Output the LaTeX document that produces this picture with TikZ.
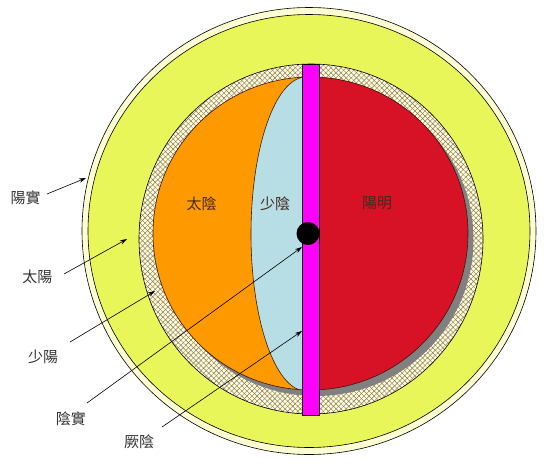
\documentclass[tikz,border=0pt]{standalone}
\usepackage{fontspec}
\newfontfamily\cjk{Noto Sans CJK TC}
\usetikzlibrary{patterns.meta,arrows.meta}
\definecolor{cream}{RGB}{255,255,212}
\definecolor{yel}{RGB}{232,246,90}
\definecolor{org}{RGB}{255,153,0}
\definecolor{lblue}{RGB}{183,222,228}
\definecolor{rd}{RGB}{215,17,38}
\definecolor{mag}{RGB}{255,0,255}
\definecolor{shad}{RGB}{128,128,128}
\definecolor{hatchc}{RGB}{140,112,100}
\definecolor{txt}{RGB}{50,50,50}
\tikzset{
  lbl/.style={font=\cjk\fontsize{15}{15}\selectfont, text=txt, inner sep=0pt},
  inlbl/.style={font=\cjk\fontsize{15}{15}\selectfont, text={rgb,255:red,70;green,40;blue,30}, inner sep=0pt},
  arr/.style={draw=black, line width=0.6pt, -{Stealth[length=7pt,width=4.5pt]}},
  edge/.style={draw=black, line width=0.6pt},
}
\begin{document}
\begin{tikzpicture}[x=1pt,y=-1pt]
\useasboundingbox (0,0) rectangle (555,475);
% outer band
\fill[cream, edge] (309,231) ellipse [x radius=227pt, y radius=223.5pt];
\draw[edge, fill=yel] (309,231) ellipse [x radius=221pt, y radius=216.5pt];
% hatched ring
\fill[cream] (311,239) ellipse [x radius=172pt, y radius=175pt];
\fill[pattern={Lines[angle=45,distance=3.6pt,line width=0.45pt]}, pattern color=hatchc] (311,239) ellipse [x radius=172pt, y radius=175pt];
\fill[pattern={Lines[angle=-45,distance=3.6pt,line width=0.45pt]}, pattern color=hatchc] (311,239) ellipse [x radius=172pt, y radius=175pt];
\draw[edge] (311,239) ellipse [x radius=172pt, y radius=175pt];
% shadow
\fill[shad] (316,239.5) ellipse [x radius=157.5pt, y radius=156.5pt];
% inner disk
\fill[org] (310.5,233.5) ellipse [x radius=157.5pt, y radius=156.5pt];
\begin{scope}
  \clip (310.5,233.5) ellipse [x radius=157.5pt, y radius=156.5pt];
  \fill[lblue] (306,234) ellipse [x radius=55pt, y radius=157pt];
  \draw[line width=0.6pt, draw={rgb,255:red,60;green,30;blue,10}] (306,234) ellipse [x radius=55pt, y radius=157pt];
  \fill[rd] (310,50) rectangle (480,420);
\end{scope}
\draw[line width=0.6pt, draw={rgb,255:red,60;green,20;blue,10}] (310.5,233.5) ellipse [x radius=157.5pt, y radius=156.5pt];
% pink bar
\node[draw=black, line width=0.6pt, fill=mag, minimum width=17pt, minimum height=351pt, inner sep=0pt] (bar) at (310.5,239.5) {};
% dot
\node[circle, fill=black, minimum size=23pt, inner sep=0pt] (dot) at (308,233.5) {};
% inner labels
\node[inlbl] (taiyin) at (201.5,203.5) {太陰};
\node[inlbl] (shaoyin) at (275,203.5) {少陰};
\node[inlbl] (yangming) at (377,203.5) {陽明};
% outer labels
\node[lbl] (yangshi) at (25.5,198) {陽實};
\node[lbl] (taiyang) at (37.5,277) {太陽};
\node[lbl] (shaoyang) at (43,357) {少陽};
\node[lbl] (yinshi) at (71,418.5) {陰實};
\node[lbl] (jueyin) at (139,442) {厥陰};
% arrow ends
\coordinate (s1) at (47,194);   \coordinate (e1) at (86,178);
\coordinate (s2) at (64,274);   \coordinate (e2) at (127,239);
\coordinate (s3) at (70,342);   \coordinate (e3) at (155,291);
\coordinate (s4) at (87,403);   \coordinate (e4) at (302,247);
\coordinate (s5) at (162,427);  \coordinate (e5) at (302,331);
\draw[arr] (s1) -- (e1);
\draw[arr] (s2) -- (e2);
\draw[arr] (s3) -- (e3);
\draw[arr] (s4) -- (e4);
\draw[arr] (s5) -- (e5);
\end{tikzpicture}
\end{document}
